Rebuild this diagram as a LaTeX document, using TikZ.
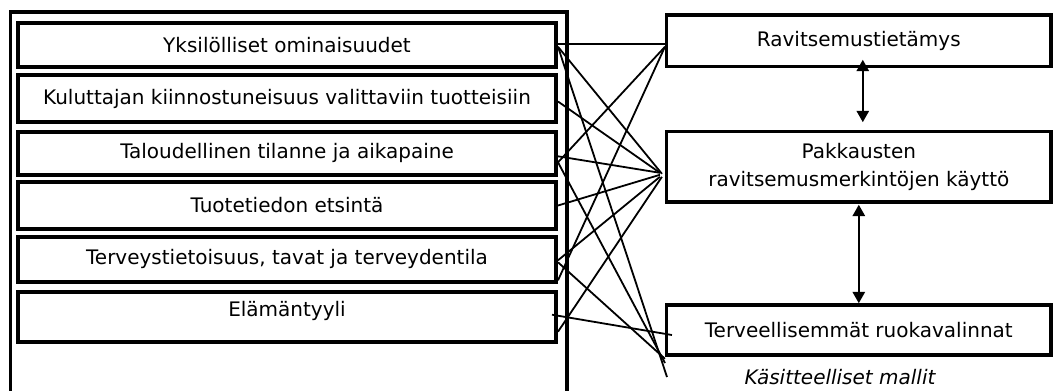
\documentclass[tikz,border=0pt]{standalone}
\usepackage{fontspec}
\setmainfont{DejaVu Sans}
\usetikzlibrary{calc,arrows.meta}

\tikzset{
  factor/.style={draw,line width=3pt,minimum width=403.5pt,inner sep=0pt,
    font=\fontsize{15}{21}\selectfont},
  outcome/.style={draw,line width=2.6pt,minimum width=288.2pt,inner sep=0pt,
    align=center,font=\fontsize{15}{21}\selectfont},
  link/.style={line width=1.35pt},
  twoway/.style={line width=1.9pt,{Triangle[length=8.5pt,width=9pt]}-{Triangle[length=8.5pt,width=9pt]}}
}

\begin{document}
\begin{tikzpicture}[x=0.75pt,y=-0.75pt]
      \useasboundingbox (0,0) rectangle (1053,390);
      \draw[line width=2.3pt] (10.5,12) rectangle (567,393);

      \node[factor,minimum height=32.6pt] (yks) at (287,44.8) {Yksilölliset ominaisuudet};
      \node[factor,minimum height=35.2pt] (kul) at (287,98.5) {Kuluttajan kiinnostuneisuus valittaviin tuotteisiin};
      \node[factor,minimum height=32.5pt] (tal) at (287,153.3) {Taloudellinen tilanne ja aikapaine};
      \node[factor,minimum height=35.2pt] (tuo) at (287,205.5) {Tuotetiedon etsintä};
      \node[factor,minimum height=34pt] (ter) at (287,259.3) {Terveystietoisuus, tavat ja terveydentila};
      \node[factor,minimum height=37.5pt,text depth=11.5pt] (ela) at (287,316.7) {Elämäntyyli};

      \node[outcome,minimum height=38.8pt] (tieto) at (858.8,40.8) {Ravitsemustietämys};
      \node[outcome,minimum height=52.7pt] (pakk) at (858.8,166.8) {Pakkausten\\ravitsemusmerkintöjen käyttö};
      \node[outcome,minimum height=37.5pt] (terv) at (858.8,330) {Terveellisemmät ruokavalinnat};

      \node[font=\fontsize{15}{18}\selectfont\itshape,inner sep=1pt] (malli) at (840,377) {Käsitteelliset mallit};

      \draw[twoway] ($(tieto.south)+(4,-8.7)$) -- ($(pakk.north)+(4,-7.7)$);
      \draw[twoway] ($(pakk.south)+(0,1)$) -- (terv.north);

      \coordinate (p) at ($(pakk.west)+(-3,7)$);
      \coordinate (e1) at (667,377);
      \coordinate (e2) at (665,363);

      \draw[link] ($(yks.east)+(0,-1)$) -- ($(tieto.west)+(0,3)$);
      \draw[link] ($(yks.east)+(0,2)$) -- (p);
      \draw[link] ($(yks.east)+(0,2)$) -- (e1);
      \draw[link] ($(kul.east)+(0,3)$) -- ($(p)+(-2,-1)$);
      \draw[link] ($(tal.east)+(0,3)$) -- ($(p)+(-2,-1)$);
      \draw[link] ($(tal.east)+(0,9)$) -- ($(tieto.west)+(0,6)$);
      \draw[link] ($(tal.east)+(0,9)$) -- (e2);
      \draw[link] (tuo.east) -- ($(p)+(-2,1)$);
      \draw[link] ($(ter.east)+(0,1)$) -- ($(p)+(-2,3)$);
      \draw[link] ($(ter.east)+(0,3)$) -- ($(terv.south west)+(0,2)$);
      \draw[link] ($(ter.east)+(0,21)$) -- ($(tieto.west)+(0,6)$);
      \draw[link] ($(ela.east)+(-6,-2)$) -- ($(terv.west)+(7,5)$);
      \draw[link] ($(ela.east)+(0,15)$) -- ($(p)+(0,3)$);
\end{tikzpicture}
\end{document}
